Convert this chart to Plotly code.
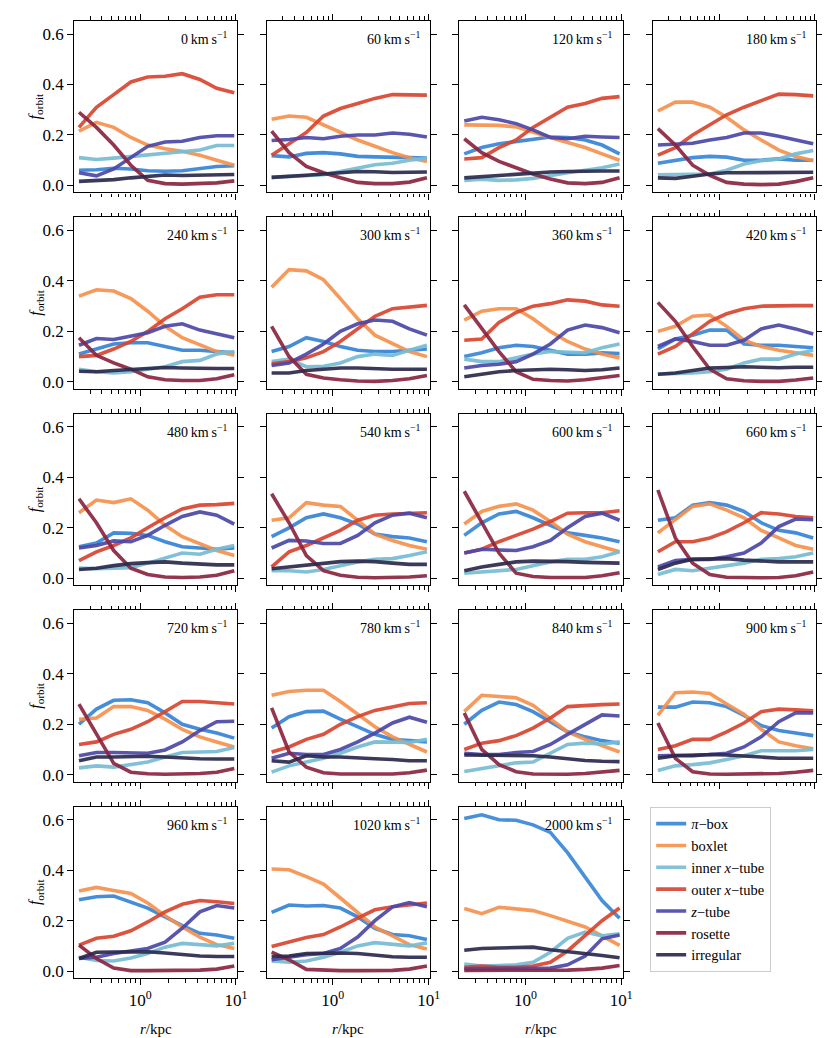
import plotly.graph_objects as go

# ---------------- data ----------------
r_kpc = [0.23, 0.35, 0.53, 0.80, 1.2, 1.82, 2.75, 4.2, 6.3, 9.6]

panel_labels = ["0", "60", "120", "180", "240", "300", "360", "420", "480", "540",
                "600", "660", "720", "780", "840", "900", "960", "1020", "2000"]

orbit_names = ["<i>π</i>−box", "boxlet", "inner <i>x</i>−tube", "outer <i>x</i>−tube",
               "<i>z</i>−tube", "rosette", "irregular"]
orbit_colors = ["#3a87d8", "#f6924f", "#79bdd3", "#d94630", "#4d48a8", "#8b2540", "#2c2a4c"]

pi_box = [
    [0.060, 0.062, 0.068, 0.065, 0.058, 0.056, 0.058, 0.065, 0.075, 0.078],
    [0.118, 0.113, 0.127, 0.130, 0.125, 0.115, 0.113, 0.113, 0.110, 0.108],
    [0.125, 0.150, 0.165, 0.175, 0.185, 0.192, 0.190, 0.180, 0.160, 0.125],
    [0.088, 0.100, 0.110, 0.115, 0.112, 0.100, 0.100, 0.105, 0.100, 0.100],
    [0.110, 0.130, 0.150, 0.155, 0.155, 0.140, 0.125, 0.125, 0.120, 0.115],
    [0.120, 0.140, 0.175, 0.160, 0.140, 0.125, 0.120, 0.120, 0.125, 0.130],
    [0.100, 0.115, 0.135, 0.145, 0.140, 0.125, 0.110, 0.110, 0.115, 0.112],
    [0.130, 0.170, 0.185, 0.205, 0.205, 0.150, 0.145, 0.145, 0.140, 0.135],
    [0.125, 0.140, 0.180, 0.178, 0.170, 0.145, 0.125, 0.120, 0.115, 0.120],
    [0.165, 0.200, 0.240, 0.255, 0.240, 0.215, 0.175, 0.165, 0.160, 0.145],
    [0.170, 0.220, 0.255, 0.265, 0.240, 0.210, 0.180, 0.170, 0.160, 0.145],
    [0.230, 0.240, 0.290, 0.300, 0.290, 0.265, 0.220, 0.190, 0.180, 0.160],
    [0.200, 0.260, 0.295, 0.297, 0.285, 0.245, 0.200, 0.180, 0.165, 0.145],
    [0.185, 0.230, 0.250, 0.252, 0.220, 0.190, 0.160, 0.140, 0.135, 0.130],
    [0.200, 0.255, 0.288, 0.278, 0.250, 0.210, 0.170, 0.150, 0.135, 0.125],
    [0.268, 0.268, 0.288, 0.285, 0.270, 0.235, 0.195, 0.175, 0.165, 0.155],
    [0.283, 0.295, 0.298, 0.272, 0.250, 0.215, 0.180, 0.150, 0.143, 0.130],
    [0.233, 0.262, 0.258, 0.260, 0.250, 0.215, 0.170, 0.145, 0.140, 0.125],
    [0.605, 0.620, 0.600, 0.598, 0.580, 0.550, 0.470, 0.375, 0.280, 0.210],
]
boxlet = [
    [0.215, 0.250, 0.230, 0.190, 0.160, 0.145, 0.135, 0.120, 0.100, 0.080],
    [0.262, 0.275, 0.270, 0.240, 0.210, 0.180, 0.155, 0.130, 0.110, 0.095],
    [0.240, 0.240, 0.238, 0.232, 0.210, 0.190, 0.170, 0.150, 0.125, 0.100],
    [0.295, 0.330, 0.330, 0.310, 0.270, 0.220, 0.180, 0.140, 0.115, 0.098],
    [0.340, 0.365, 0.360, 0.330, 0.280, 0.220, 0.175, 0.145, 0.120, 0.105],
    [0.375, 0.445, 0.440, 0.405, 0.330, 0.250, 0.185, 0.150, 0.120, 0.100],
    [0.245, 0.280, 0.290, 0.290, 0.250, 0.200, 0.160, 0.130, 0.110, 0.095],
    [0.200, 0.220, 0.260, 0.265, 0.220, 0.165, 0.140, 0.125, 0.115, 0.105],
    [0.260, 0.310, 0.300, 0.315, 0.270, 0.210, 0.165, 0.135, 0.110, 0.090],
    [0.230, 0.240, 0.300, 0.290, 0.285, 0.230, 0.175, 0.150, 0.130, 0.115],
    [0.215, 0.265, 0.285, 0.295, 0.270, 0.225, 0.175, 0.145, 0.125, 0.105],
    [0.180, 0.235, 0.285, 0.295, 0.270, 0.240, 0.190, 0.160, 0.130, 0.115],
    [0.220, 0.225, 0.270, 0.270, 0.255, 0.220, 0.180, 0.150, 0.130, 0.110],
    [0.315, 0.330, 0.335, 0.335, 0.290, 0.240, 0.190, 0.150, 0.120, 0.090],
    [0.250, 0.315, 0.310, 0.305, 0.275, 0.220, 0.170, 0.140, 0.115, 0.090],
    [0.235, 0.325, 0.328, 0.322, 0.280, 0.240, 0.180, 0.130, 0.115, 0.103],
    [0.318, 0.332, 0.320, 0.308, 0.270, 0.220, 0.175, 0.135, 0.105, 0.090],
    [0.405, 0.402, 0.375, 0.345, 0.290, 0.230, 0.175, 0.140, 0.105, 0.088],
    [0.248, 0.228, 0.253, 0.245, 0.240, 0.220, 0.198, 0.175, 0.140, 0.102],
]
inner_x_tube = [
    [0.110, 0.103, 0.108, 0.115, 0.122, 0.128, 0.133, 0.140, 0.158, 0.158],
    [0.032, 0.035, 0.036, 0.042, 0.055, 0.070, 0.082, 0.088, 0.100, 0.108],
    [0.020, 0.025, 0.020, 0.022, 0.028, 0.040, 0.050, 0.060, 0.070, 0.085],
    [0.042, 0.042, 0.042, 0.045, 0.060, 0.085, 0.098, 0.105, 0.125, 0.138],
    [0.050, 0.040, 0.035, 0.040, 0.050, 0.060, 0.080, 0.085, 0.110, 0.120],
    [0.080, 0.090, 0.060, 0.062, 0.075, 0.100, 0.110, 0.105, 0.125, 0.145],
    [0.090, 0.080, 0.080, 0.095, 0.110, 0.120, 0.118, 0.115, 0.135, 0.150],
    [0.030, 0.032, 0.035, 0.040, 0.050, 0.075, 0.090, 0.090, 0.110, 0.125],
    [0.040, 0.038, 0.040, 0.042, 0.060, 0.080, 0.100, 0.095, 0.115, 0.130],
    [0.030, 0.030, 0.025, 0.035, 0.050, 0.065, 0.075, 0.078, 0.090, 0.105],
    [0.020, 0.025, 0.028, 0.035, 0.050, 0.065, 0.075, 0.075, 0.085, 0.105],
    [0.015, 0.035, 0.030, 0.040, 0.050, 0.060, 0.075, 0.078, 0.085, 0.100],
    [0.027, 0.035, 0.030, 0.040, 0.050, 0.070, 0.088, 0.090, 0.092, 0.108],
    [0.010, 0.035, 0.050, 0.065, 0.085, 0.110, 0.130, 0.130, 0.128, 0.140],
    [0.013, 0.025, 0.035, 0.047, 0.050, 0.085, 0.120, 0.125, 0.122, 0.130],
    [0.017, 0.035, 0.040, 0.047, 0.060, 0.075, 0.095, 0.095, 0.095, 0.100],
    [0.055, 0.042, 0.040, 0.052, 0.070, 0.095, 0.110, 0.105, 0.100, 0.110],
    [0.040, 0.035, 0.040, 0.055, 0.075, 0.100, 0.113, 0.105, 0.100, 0.112],
    [0.028, 0.020, 0.022, 0.025, 0.035, 0.075, 0.130, 0.155, 0.140, 0.148],
]
outer_x_tube = [
    [0.230, 0.310, 0.360, 0.410, 0.430, 0.433, 0.443, 0.420, 0.385, 0.367],
    [0.120, 0.165, 0.210, 0.275, 0.305, 0.325, 0.345, 0.360, 0.360, 0.358],
    [0.105, 0.110, 0.150, 0.180, 0.230, 0.270, 0.310, 0.325, 0.345, 0.352],
    [0.120, 0.150, 0.200, 0.240, 0.280, 0.310, 0.335, 0.362, 0.360, 0.355],
    [0.100, 0.105, 0.130, 0.160, 0.200, 0.250, 0.290, 0.335, 0.345, 0.345],
    [0.072, 0.080, 0.095, 0.120, 0.160, 0.210, 0.260, 0.290, 0.298, 0.303],
    [0.165, 0.170, 0.235, 0.275, 0.300, 0.310, 0.325, 0.320, 0.305, 0.300],
    [0.110, 0.140, 0.190, 0.240, 0.270, 0.290, 0.300, 0.302, 0.302, 0.302],
    [0.070, 0.105, 0.130, 0.160, 0.200, 0.240, 0.275, 0.290, 0.292, 0.297],
    [0.045, 0.105, 0.130, 0.160, 0.190, 0.230, 0.250, 0.255, 0.258, 0.260],
    [0.100, 0.115, 0.145, 0.170, 0.195, 0.225, 0.258, 0.260, 0.260, 0.268],
    [0.105, 0.145, 0.145, 0.160, 0.185, 0.220, 0.260, 0.255, 0.245, 0.240],
    [0.120, 0.130, 0.160, 0.180, 0.210, 0.250, 0.290, 0.290, 0.285, 0.280],
    [0.090, 0.110, 0.140, 0.160, 0.200, 0.230, 0.255, 0.270, 0.282, 0.285],
    [0.100, 0.125, 0.135, 0.155, 0.185, 0.225, 0.270, 0.275, 0.278, 0.280],
    [0.100, 0.115, 0.140, 0.140, 0.170, 0.205, 0.250, 0.260, 0.257, 0.253],
    [0.103, 0.130, 0.138, 0.160, 0.195, 0.235, 0.265, 0.280, 0.275, 0.268],
    [0.098, 0.115, 0.133, 0.145, 0.175, 0.210, 0.243, 0.255, 0.262, 0.270],
    [0.015, 0.020, 0.015, 0.015, 0.020, 0.035, 0.080, 0.140, 0.200, 0.250],
]
z_tube = [
    [0.050, 0.038, 0.065, 0.110, 0.155, 0.172, 0.175, 0.190, 0.197, 0.197],
    [0.178, 0.182, 0.190, 0.185, 0.195, 0.200, 0.200, 0.208, 0.203, 0.192],
    [0.255, 0.270, 0.260, 0.245, 0.220, 0.190, 0.185, 0.195, 0.192, 0.190],
    [0.160, 0.165, 0.167, 0.180, 0.190, 0.208, 0.208, 0.195, 0.180, 0.165],
    [0.145, 0.172, 0.168, 0.180, 0.195, 0.220, 0.230, 0.205, 0.190, 0.175],
    [0.065, 0.075, 0.110, 0.150, 0.200, 0.230, 0.245, 0.240, 0.210, 0.185],
    [0.055, 0.065, 0.070, 0.080, 0.110, 0.150, 0.205, 0.225, 0.215, 0.195],
    [0.140, 0.170, 0.160, 0.145, 0.145, 0.165, 0.210, 0.225, 0.210, 0.190],
    [0.120, 0.130, 0.148, 0.145, 0.170, 0.210, 0.245, 0.263, 0.250, 0.215],
    [0.120, 0.150, 0.148, 0.138, 0.138, 0.170, 0.220, 0.250, 0.258, 0.240],
    [0.100, 0.115, 0.112, 0.110, 0.125, 0.150, 0.200, 0.245, 0.258, 0.230],
    [0.045, 0.070, 0.075, 0.075, 0.085, 0.100, 0.140, 0.205, 0.235, 0.232],
    [0.075, 0.088, 0.088, 0.085, 0.085, 0.098, 0.130, 0.175, 0.210, 0.212],
    [0.065, 0.085, 0.080, 0.080, 0.100, 0.130, 0.165, 0.205, 0.228, 0.208],
    [0.085, 0.080, 0.080, 0.088, 0.092, 0.120, 0.160, 0.200, 0.237, 0.233],
    [0.075, 0.075, 0.078, 0.080, 0.085, 0.110, 0.150, 0.210, 0.245, 0.245],
    [0.050, 0.055, 0.070, 0.080, 0.090, 0.115, 0.170, 0.235, 0.260, 0.250],
    [0.045, 0.055, 0.065, 0.070, 0.090, 0.135, 0.200, 0.255, 0.272, 0.255],
    [0.010, 0.010, 0.010, 0.010, 0.010, 0.012, 0.025, 0.060, 0.128, 0.143],
]
rosette = [
    [0.290, 0.230, 0.160, 0.080, 0.020, 0.007, 0.005, 0.007, 0.010, 0.018],
    [0.215, 0.130, 0.075, 0.050, 0.030, 0.012, 0.007, 0.007, 0.013, 0.030],
    [0.185, 0.130, 0.095, 0.070, 0.045, 0.025, 0.010, 0.007, 0.012, 0.030],
    [0.225, 0.160, 0.080, 0.040, 0.012, 0.005, 0.003, 0.005, 0.015, 0.030],
    [0.175, 0.105, 0.075, 0.050, 0.020, 0.008, 0.005, 0.005, 0.012, 0.028],
    [0.220, 0.100, 0.030, 0.015, 0.008, 0.003, 0.002, 0.005, 0.012, 0.025],
    [0.305, 0.210, 0.120, 0.040, 0.010, 0.005, 0.003, 0.008, 0.015, 0.025],
    [0.315, 0.240, 0.140, 0.050, 0.012, 0.004, 0.002, 0.002, 0.007, 0.015],
    [0.315, 0.220, 0.110, 0.040, 0.015, 0.005, 0.003, 0.005, 0.012, 0.030],
    [0.335, 0.220, 0.090, 0.030, 0.012, 0.004, 0.002, 0.002, 0.005, 0.010],
    [0.345, 0.220, 0.100, 0.020, 0.007, 0.003, 0.002, 0.003, 0.010, 0.022],
    [0.350, 0.160, 0.060, 0.015, 0.004, 0.002, 0.002, 0.003, 0.010, 0.025],
    [0.280, 0.160, 0.045, 0.010, 0.004, 0.002, 0.002, 0.005, 0.010, 0.025],
    [0.265, 0.090, 0.030, 0.008, 0.003, 0.002, 0.002, 0.003, 0.008, 0.018],
    [0.245, 0.100, 0.040, 0.012, 0.003, 0.002, 0.002, 0.005, 0.010, 0.017],
    [0.205, 0.065, 0.012, 0.003, 0.002, 0.002, 0.003, 0.005, 0.010, 0.017],
    [0.103, 0.050, 0.012, 0.002, 0.002, 0.002, 0.003, 0.004, 0.008, 0.020],
    [0.075, 0.045, 0.007, 0.003, 0.002, 0.002, 0.002, 0.003, 0.008, 0.020],
    [0.003, 0.003, 0.003, 0.003, 0.003, 0.003, 0.004, 0.007, 0.012, 0.022],
]
irregular = [
    [0.016, 0.018, 0.023, 0.030, 0.037, 0.041, 0.039, 0.040, 0.042, 0.043],
    [0.032, 0.035, 0.040, 0.045, 0.050, 0.055, 0.054, 0.051, 0.052, 0.053],
    [0.030, 0.035, 0.040, 0.045, 0.050, 0.053, 0.055, 0.057, 0.057, 0.057],
    [0.030, 0.028, 0.036, 0.045, 0.050, 0.050, 0.050, 0.050, 0.050, 0.052],
    [0.042, 0.040, 0.045, 0.050, 0.055, 0.057, 0.055, 0.053, 0.053, 0.053],
    [0.035, 0.035, 0.045, 0.050, 0.055, 0.055, 0.052, 0.050, 0.050, 0.050],
    [0.020, 0.030, 0.040, 0.045, 0.048, 0.050, 0.048, 0.045, 0.048, 0.055],
    [0.030, 0.035, 0.045, 0.055, 0.057, 0.060, 0.058, 0.056, 0.058, 0.058],
    [0.035, 0.040, 0.050, 0.058, 0.062, 0.065, 0.060, 0.055, 0.053, 0.053],
    [0.038, 0.045, 0.055, 0.062, 0.066, 0.068, 0.066, 0.060, 0.055, 0.055],
    [0.030, 0.045, 0.055, 0.065, 0.068, 0.068, 0.066, 0.063, 0.060, 0.060],
    [0.035, 0.060, 0.075, 0.075, 0.078, 0.072, 0.068, 0.065, 0.065, 0.065],
    [0.055, 0.070, 0.070, 0.073, 0.073, 0.070, 0.065, 0.063, 0.062, 0.062],
    [0.055, 0.050, 0.075, 0.070, 0.070, 0.068, 0.063, 0.060, 0.055, 0.055],
    [0.078, 0.078, 0.078, 0.078, 0.075, 0.070, 0.063, 0.056, 0.053, 0.052],
    [0.065, 0.075, 0.075, 0.080, 0.078, 0.075, 0.070, 0.065, 0.065, 0.065],
    [0.050, 0.075, 0.076, 0.078, 0.077, 0.072, 0.065, 0.060, 0.058, 0.058],
    [0.058, 0.060, 0.070, 0.072, 0.072, 0.070, 0.062, 0.057, 0.055, 0.055],
    [0.083, 0.090, 0.092, 0.095, 0.095, 0.085, 0.078, 0.070, 0.062, 0.053],
]

x_major = [1, 10]
x_major_text = ["10<sup>0</sup>", "10<sup>1</sup>"]
x_minor = [0.3, 0.4, 0.5, 0.6, 0.7, 0.8, 0.9, 2, 3, 4, 5, 6, 7, 8, 9]
y_ticks = [0.0, 0.2, 0.4, 0.6]

# ---------------- layout geometry ----------------
W, H = 830, 1038
col_left = [67, 262, 457, 653]
panel_w = 165
row_top = [13, 210, 407, 604, 801]
panel_h = 172
FONT = "Liberation Serif"

all_series = [pi_box, boxlet, inner_x_tube, outer_x_tube, z_tube, rosette, irregular]

fig = go.Figure()
annotations = []
layout_axes = {}

for i, lab in enumerate(panel_labels):
    row, col = divmod(i, 4)
    n = i + 1
    xa = "x" if n == 1 else f"x{n}"
    ya = "y" if n == 1 else f"y{n}"
    for k, series in enumerate(all_series):
        fig.add_trace(go.Scatter(
            x=r_kpc, y=series[i], mode="lines", xaxis=xa, yaxis=ya,
            line=dict(color=orbit_colors[k], width=3.6), opacity=0.92,
            name=orbit_names[k], legendgroup=orbit_names[k],
            showlegend=(i == 0), hoverinfo="skip",
        ))
    x0 = col_left[col] / W
    x1 = (col_left[col] + panel_w) / W
    y1 = 1 - row_top[row] / H
    y0 = 1 - (row_top[row] + panel_h) / H
    show_xlab = row == 4
    layout_axes["xaxis" if n == 1 else f"xaxis{n}"] = dict(
        domain=[x0, x1], anchor=ya, type="log", range=[-0.688, 1.013],
        tickvals=x_major, ticktext=x_major_text, showticklabels=show_xlab,
        ticks="outside", ticklen=6, tickwidth=1.1, tickcolor="black",
        minor=dict(tickvals=x_minor, ticks="outside", ticklen=3.5, tickwidth=0.9,
                   tickcolor="black", showgrid=False),
        showline=True, linecolor="black", linewidth=1.3, mirror="ticks",
        showgrid=False, zeroline=False,
        tickfont=dict(family=FONT, size=17, color="black"),
    )
    layout_axes["yaxis" if n == 1 else f"yaxis{n}"] = dict(
        domain=[y0, y1], anchor=xa, range=[-0.028, 0.652],
        tickvals=y_ticks, tickformat=".1f", showticklabels=(col == 0),
        ticks="outside", ticklen=6, tickwidth=1.1, tickcolor="black",
        showline=True, linecolor="black", linewidth=1.3, mirror="ticks",
        showgrid=False, zeroline=False,
        tickfont=dict(family=FONT, size=17, color="black"),
    )
    annotations.append(dict(
        text=f"{lab}\u2009km\u2009s<sup>−1</sup>",
        xref=f"{xa} domain", yref=f"{ya} domain", x=0.95, y=0.965,
        xanchor="right", yanchor="top", showarrow=False,
        font=dict(family=FONT, size=14, color="black"),
    ))
    if col == 0:
        annotations.append(dict(
            text="<i>f</i><sub>orbit</sub>", xref="paper", yref="paper",
            x=28 / W, y=1 - (row_top[row] + panel_h / 2) / H,
            xanchor="center", yanchor="middle", textangle=-90, showarrow=False,
            font=dict(family=FONT, size=16, color="black"),
        ))
    if row == 4:
        annotations.append(dict(
            text="<i>r</i>/kpc", xref="paper", yref="paper",
            x=(col_left[col] + panel_w / 2) / W, y=1 - 1024 / H,
            xanchor="center", yanchor="middle", showarrow=False,
            font=dict(family=FONT, size=15, color="black"),
        ))

fig.update_layout(
    width=W, height=H, margin=dict(l=0, r=0, t=0, b=0),
    paper_bgcolor="white", plot_bgcolor="white",
    font=dict(family=FONT, color="black"),
    annotations=annotations,
    showlegend=True,
    legend=dict(
        x=650 / W, y=1 - 801 / H, xanchor="left", yanchor="top",
        bgcolor="white", bordercolor="#cccccc", borderwidth=1,
        font=dict(family=FONT, size=14.5, color="black"),
        itemwidth=30, tracegroupgap=0,
    ),
    **layout_axes,
)

fig.write_html("out.html")
